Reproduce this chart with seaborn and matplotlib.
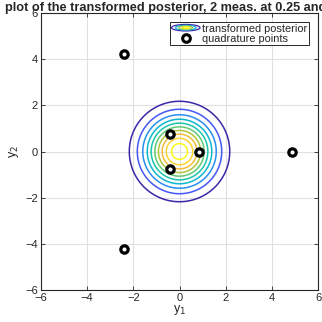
import numpy as np
import pandas as pd
import seaborn as sns
import matplotlib
matplotlib.use("Agg")
import matplotlib.pyplot as plt
from matplotlib.colors import LinearSegmentedColormap, Normalize
from matplotlib.legend_handler import HandlerBase
from matplotlib.patches import Ellipse
from matplotlib.lines import Line2D

# ---- data ----
quad_x = [-2.42, -2.42, -0.42, -0.42, 0.85, 4.85]
quad_y = [4.20, -4.20, 0.74, -0.74, 0.0, 0.0]
post_mean = [0.0, 0.0]
post_std = [1.0, 1.0]
contour_levels = [0.015, 0.030, 0.045, 0.060, 0.075, 0.090, 0.105, 0.120, 0.135, 0.150]
ticks = [-6, -4, -2, 0, 2, 4, 6]
title_text = "plot of the transformed posterior, 2 meas. at 0.25 and 0.75"

# ---- style ----
sns.set_theme(style="whitegrid")
plt.rcParams['font.family'] = ['Liberation Sans', 'DejaVu Sans']

parula = LinearSegmentedColormap.from_list("parula", [
    (0.00, (0.2422, 0.1504, 0.6603)),
    (0.10, (0.2810, 0.3228, 0.9579)),
    (0.20, (0.1786, 0.5289, 0.9682)),
    (0.30, (0.0689, 0.6948, 0.8394)),
    (0.40, (0.0216, 0.7647, 0.7401)),
    (0.50, (0.2161, 0.7843, 0.5923)),
    (0.60, (0.5044, 0.7993, 0.3480)),
    (0.70, (0.8000, 0.7591, 0.1546)),
    (0.80, (0.9871, 0.7348, 0.2438)),
    (0.90, (0.9955, 0.8382, 0.1883)),
    (1.00, (0.9769, 0.9839, 0.0805)),
])

fig = plt.figure(figsize=(3.22, 3.22), dpi=100)
ax = fig.add_axes([0.127, 0.099, 0.861, 0.861])
ax.set_facecolor("white")

# posterior density on grid
g = np.linspace(-6, 6, 401)
X, Y = np.meshgrid(g, g)
Z = np.exp(-0.5 * (((X - post_mean[0]) / post_std[0]) ** 2 + ((Y - post_mean[1]) / post_std[1]) ** 2)) / (2 * np.pi * post_std[0] * post_std[1])
ax.contour(X, Y, Z, levels=contour_levels, cmap=parula,
           norm=Normalize(vmin=min(contour_levels), vmax=max(contour_levels)),
           linewidths=1.1)

df = pd.DataFrame({"y1": quad_x, "y2": quad_y})
sns.scatterplot(data=df, x="y1", y="y2", ax=ax, marker="o", s=28,
                facecolor="white", edgecolor="black", linewidth=2.3, zorder=5)

ax.set_xlim(-6, 6)
ax.set_ylim(-6, 6)
ax.set_xticks(ticks)
ax.set_yticks(ticks)
ax.grid(True, color="#e0e0e0", linewidth=0.8)
for s in ax.spines.values():
    s.set_visible(True)
    s.set_color("#262626")
    s.set_linewidth(0.8)
ax.tick_params(direction="in", length=3, width=0.6, color="#262626",
               top=True, right=True, bottom=True, left=True,
               labelsize=8, labelcolor="#262626", pad=2)
ax.set_xlabel("y$_1$", fontsize=9, color="#262626", labelpad=0)
ax.set_ylabel("y$_2$", fontsize=9, color="#262626", labelpad=3)
ax.set_title(title_text, fontsize=9.2, fontweight="bold", pad=1.5)


class ContourHandler(HandlerBase):
    def create_artists(self, legend, orig_handle, xdescent, ydescent, width, height, fontsize, trans):
        cx = width / 2 - xdescent
        cy = height / 2 - ydescent
        arts = []
        for frac, c in [(1.0, parula(0.0)), (0.72, parula(0.3)), (0.48, parula(0.65)), (0.25, parula(1.0))]:
            e = Ellipse((cx, cy), width * frac, height * 0.85 * frac, fill=False,
                        edgecolor=c, linewidth=0.9, transform=trans)
            arts.append(e)
        return arts


class ContourProxy:
    pass


marker_handle = Line2D([], [], linestyle="none", marker="o", markersize=5.5,
                       markerfacecolor="white", markeredgecolor="black", markeredgewidth=2.2)
leg = ax.legend([ContourProxy(), marker_handle],
                ["transformed posterior", "quadrature points"],
                handler_map={ContourProxy: ContourHandler()},
                loc="upper right", fontsize=7.9, frameon=True, fancybox=False,
                edgecolor="#262626", framealpha=1, borderpad=0.12,
                handlelength=2.6, handletextpad=0.2, labelspacing=0.0,
                borderaxespad=0.85)
leg.get_frame().set_linewidth(0.7)

fig.savefig("out.png", dpi=100)
